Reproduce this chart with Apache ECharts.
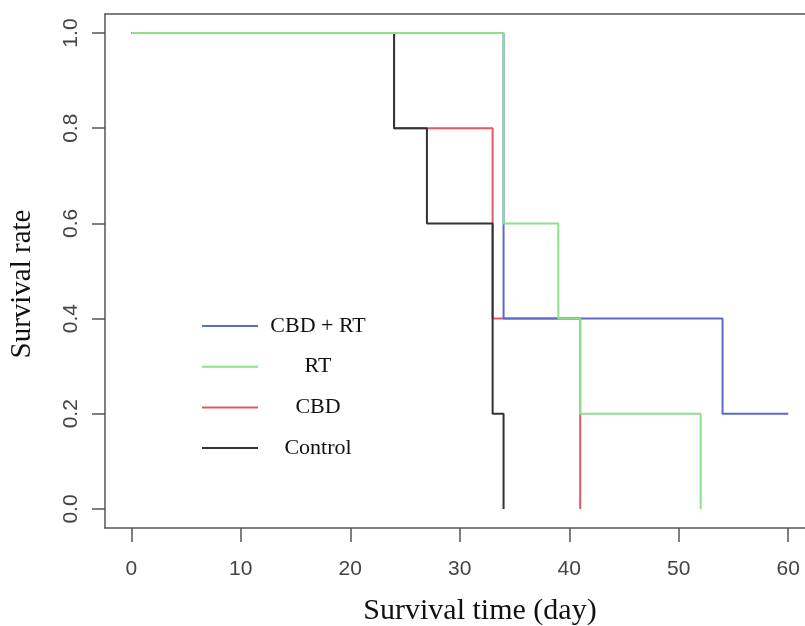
<!DOCTYPE html>
<html><head><meta charset="utf-8">
<script src="https://cdn.jsdelivr.net/npm/echarts@6/dist/echarts.min.js"></script>
<style>html,body{margin:0;padding:0;background:#fff}#c{width:805px;height:626px}</style>
</head><body><div id="c"></div>
<script>
const seriesNames = ['CBD + RT', 'RT', 'CBD', 'Control'];
const cbdRtTimes = [0, 34, 54, 60];
const cbdRtSurv  = [1.0, 0.4, 0.2, 0.2];
const rtTimes    = [0, 34, 39, 41, 52];
const rtSurv     = [1.0, 0.6, 0.4, 0.2, 0.0];
const cbdTimes   = [0, 24, 33, 41];
const cbdSurv    = [1.0, 0.8, 0.4, 0.0];
const ctrlTimes  = [0, 24, 27, 33, 34];
const ctrlSurv   = [1.0, 0.8, 0.6, 0.2, 0.0];
const xTicks = [0, 10, 20, 30, 40, 50, 60];
const yTicks = [0, 0.2, 0.4, 0.6, 0.8, 1.0];

const colors = {'CBD + RT': '#5b6bc8', 'RT': '#8fdf8f', 'CBD': '#e05a66', 'Control': '#333333'};
const pairs = (t, s) => t.map((v, i) => [v, s[i]]);
function mk(name, t, s, z) {
  return {name, type: 'line', step: 'end', data: pairs(t, s), showSymbol: false, symbol: 'none',
    z, lineStyle: {color: colors[name], width: 2}, itemStyle: {color: colors[name]}};
}
const axisLineStyle = {color: '#555', width: 1.5};
const chart = echarts.init(document.getElementById('c'));
chart.setOption({
  animation: false,
  backgroundColor: '#fff',
  grid: {left: 105, top: 14, right: 0, height: 514, show: false, outerBoundsMode: 'none', containLabel: false},
  legend: {
    left: 202, top: 315, padding: 0, orient: 'vertical', itemWidth: 56, itemHeight: 2, itemGap: 18.7, icon: 'rect',
    data: seriesNames,
    formatter: n => '{a|' + n + '}',
    textStyle: {rich: {a: {width: 110, align: 'center', fontFamily: 'Liberation Serif', fontSize: 22, lineHeight: 22, height: 22, color: '#111'}}}
  },
  xAxis: [{
    type: 'value', min: -2.4, max: 61.53, position: 'bottom',
    splitLine: {show: false},
    axisLine: {show: true, onZero: false, lineStyle: axisLineStyle},
    axisTick: {show: true, inside: false, customValues: xTicks, length: 14, lineStyle: {color: '#555', width: 1.5}},
    axisLabel: {customValues: xTicks, margin: 31, fontFamily: 'Liberation Sans', fontSize: 21, color: '#444'},
    name: 'Survival time (day)', nameLocation: 'middle', nameGap: 68,
    nameTextStyle: {fontFamily: 'Liberation Serif', fontSize: 30, color: '#111', padding: [0, 0, 0, 50]}
  }, {
    type: 'value', min: -2.4, max: 61.53, position: 'top',
    splitLine: {show: false},
    axisLine: {show: true, onZero: false, lineStyle: axisLineStyle},
    axisTick: {show: false}, axisLabel: {show: false}
  }],
  yAxis: {
    type: 'value', min: -0.04, max: 1.04,
    splitLine: {show: false},
    axisLine: {show: true, onZero: false, lineStyle: axisLineStyle},
    axisTick: {show: true, inside: false, customValues: yTicks, length: 13, lineStyle: {color: '#555', width: 1.5}},
    axisLabel: {customValues: yTicks, rotate: 90, margin: 23, formatter: v => v.toFixed(1), fontFamily: 'Liberation Sans', fontSize: 21, color: '#444'},
    name: 'Survival rate', nameLocation: 'middle', nameGap: 68,
    nameTextStyle: {fontFamily: 'Liberation Serif', fontSize: 29, color: '#111', padding: [0, 26, 0, 0]}
  },
  series: [
    mk('CBD', cbdTimes, cbdSurv, 1),
    mk('CBD + RT', cbdRtTimes, cbdRtSurv, 2),
    mk('Control', ctrlTimes, ctrlSurv, 3),
    mk('RT', rtTimes, rtSurv, 4)
  ]
});
</script></body></html>
